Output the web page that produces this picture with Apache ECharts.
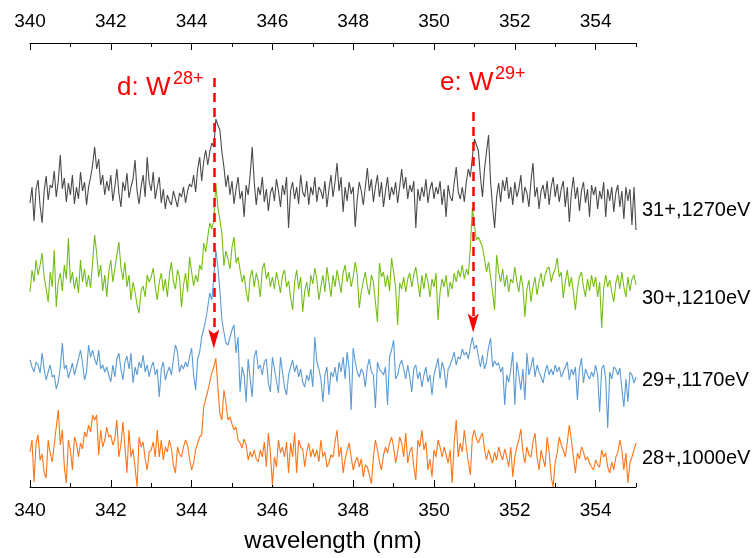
<!DOCTYPE html>
<html>
<head>
<meta charset="utf-8">
<script src="https://cdn.jsdelivr.net/npm/echarts@6/dist/echarts.min.js"></script>
<style>
  html, body { margin: 0; padding: 0; background: #ffffff; }
  #chart { width: 754px; height: 558px; }
</style>
</head>
<body>
<div id="chart"></div>
<script>
// Wavelength grid of the spectra (nm): 340.00 ... 355.00 in 0.05 nm steps
const wavelengthStart = 340;
const wavelengthStep = 0.05;

// Axis ticks (nm)
const majorTicks = [340, 342, 344, 346, 348, 350, 352, 354];
const minorTicks = [341, 343, 345, 347, 349, 351, 353, 355];

// Trace captions (charge state, beam energy)
const traceNames = ['31+,1270eV', '30+,1210eV', '29+,1170eV', '28+,1000eV'];

// Identified lines: label, ion charge, wavelength (nm)
const lineLabels = ['d', 'e'];
const lineIons = ['28+', '29+'];
const lineWavelengths = [344.55, 350.97];

// Stacked intensities (arb. units, vertically offset traces)
const trace31 = [
  284, 300, 266, 298, 307, 281, 264, 296, 311, 287, 302, 299, 316, 290, 306, 332, 298, 309, 285, 304,
  292, 312, 283, 300, 288, 315, 296, 305, 282, 300, 310, 322, 340, 318, 328, 302, 312, 292, 306, 296,
  312, 286, 300, 318, 294, 280, 305, 296, 314, 289, 300, 308, 327, 296, 283, 300, 312, 290, 330, 305,
  296, 315, 288, 300, 310, 284, 298, 278, 292, 286, 282, 296, 288, 280, 294, 290, 300, 284, 296, 303,
  300, 312, 295, 318, 330, 306, 326, 337, 322, 335, 344, 340, 368, 362, 357, 335, 320, 300, 312, 292,
  306, 283, 298, 310, 288, 296, 270, 302, 292, 312, 340, 305, 282, 300, 292, 310, 285, 298, 276, 294,
  300, 286, 308, 296, 280, 302, 292, 310, 259, 296, 305, 288, 300, 283, 312, 295, 290, 306, 282, 300,
  292, 310, 285, 300, 296, 288, 306, 280, 298, 312, 290, 305, 324, 296, 310, 275, 300, 286, 305, 293,
  300, 260, 288, 305, 296, 282, 300, 319, 296, 308, 285, 300, 312, 290, 305, 280, 296, 310, 287, 300,
  292, 305, 284, 300, 318, 298, 310, 288, 302, 295, 306, 259, 298, 286, 300, 290, 308, 284, 298, 305,
  288, 300, 293, 306, 282, 298, 270, 302, 290, 286, 304, 320, 295, 288, 300, 285, 305, 318, 310, 330,
  348, 342, 336, 310, 290, 318, 335, 352, 305, 280, 259, 290, 304, 285, 307, 296, 310, 288, 300, 282,
  305, 290, 298, 312, 284, 300, 294, 280, 306, 324, 290, 300, 278, 296, 302, 288, 306, 282, 300, 310,
  290, 303, 285, 298, 306, 280, 300, 265, 294, 310, 288, 300, 276, 296, 305, 284, 298, 270, 302, 292,
  300, 278, 296, 288, 305, 270, 298, 286, 300, 275, 294, 302, 280, 296, 268, 300, 286, 298, 262, 300,
  257
];
const trace30 = [
  195, 217, 205, 227, 212, 222, 234, 210, 198, 185, 215, 200, 237, 180, 205, 214, 196, 222, 208, 249,
  204, 215, 198, 210, 194, 227, 205, 218, 200, 212, 199, 225, 252, 234, 210, 222, 196, 212, 190, 215,
  227, 205, 218, 232, 245, 220, 207, 225, 200, 212, 187, 205, 195, 182, 174, 196, 201, 190, 212, 205,
  210, 219, 200, 187, 205, 214, 196, 208, 190, 212, 225, 205, 198, 217, 210, 180, 202, 214, 195, 230,
  215, 201, 212, 205, 222, 217, 244, 235, 250, 264, 258, 267, 304, 280, 267, 254, 221, 236, 228, 218,
  240, 250, 224, 230, 217, 205, 212, 196, 185, 210, 217, 200, 214, 206, 190, 218, 224, 208, 215, 200,
  210, 198, 215, 205, 194, 212, 217, 200, 206, 190, 177, 205, 217, 198, 210, 175, 196, 205, 190, 212,
  203, 219, 208, 187, 200, 212, 195, 220, 205, 190, 212, 200, 217, 206, 194, 214, 222, 205, 215, 200,
  210, 225, 212, 179, 195, 206, 215, 200, 192, 212, 205, 185, 165, 224, 210, 215, 200, 212, 196, 229,
  215, 200, 162, 204, 198, 210, 195, 208, 214, 200, 212, 220, 205, 190, 212, 198, 214, 205, 190, 208,
  200, 214, 167, 195, 208, 200, 212, 190, 205, 198, 214, 205, 217, 210, 222, 208, 218, 212, 240, 279,
  262, 247, 250, 245, 240, 228, 215, 225, 210, 195, 177, 232, 215, 205, 218, 200, 212, 195, 208, 204,
  220, 205, 195, 212, 200, 170, 198, 207, 185, 200, 210, 192, 205, 214, 200, 212, 218, 220, 205, 213,
  218, 229, 210, 215, 189, 205, 217, 200, 210, 195, 177, 198, 210, 215, 200, 190, 208, 196, 212, 200,
  210, 190, 205, 159, 198, 212, 200, 207, 195, 185, 204, 212, 198, 215, 200, 190, 210, 196, 208, 212,
  202
];
const trace29 = [
  127, 120, 115, 125, 122, 114, 134, 118, 107, 115, 122, 110, 112, 98, 105, 120, 144, 118, 122, 109,
  116, 124, 112, 120, 128, 137, 124, 107, 115, 142, 130, 137, 128, 122, 137, 118, 122, 115, 120, 112,
  105, 122, 110, 128, 134, 118, 107, 125, 131, 118, 134, 104, 120, 112, 125, 119, 132, 115, 122, 110,
  120, 125, 112, 118, 90, 118, 125, 107, 115, 120, 112, 128, 142, 135, 115, 122, 118, 125, 120, 130,
  139, 112, 97, 128, 135, 150, 158, 167, 180, 194, 187, 210, 237, 220, 197, 167, 155, 144, 142, 150,
  157, 162, 134, 150, 95, 120, 112, 85, 128, 108, 90, 130, 137, 118, 122, 112, 125, 128, 104, 95,
  130, 118, 106, 94, 130, 115, 100, 92, 112, 120, 127, 115, 122, 110, 118, 105, 100, 112, 106, 118,
  100, 150, 125, 118, 108, 85, 112, 120, 92, 115, 110, 120, 105, 125, 115, 130, 108, 135, 118, 77,
  139, 125, 115, 110, 118, 114, 100, 120, 128, 115, 112, 79, 125, 118, 115, 112, 120, 82, 130, 137,
  147, 108, 112, 122, 127, 118, 108, 122, 110, 95, 118, 122, 108, 115, 100, 112, 120, 105, 112, 92,
  112, 120, 129, 108, 125, 118, 99, 118, 122, 128, 135, 122, 130, 128, 138, 132, 135, 128, 140, 150,
  138, 142, 130, 120, 132, 118, 125, 140, 149, 120, 126, 122, 124, 115, 120, 82, 112, 105, 117, 135,
  82, 125, 112, 97, 118, 87, 134, 112, 120, 130, 110, 122, 115, 110, 104, 115, 122, 112, 118, 112,
  122, 115, 120, 110, 115, 120, 125, 107, 118, 112, 120, 87, 118, 129, 104, 118, 112, 108, 115, 110,
  122, 112, 75, 118, 122, 108, 59, 115, 108, 120, 118, 112, 119, 98, 80, 108, 85, 115, 112, 104,
  110
];
const trace28 = [
  35, 47, 5, 44, 52, 27, 33, 14, 9, 47, 34, 25, 42, 60, 77, 42, 57, 20, 4, 47,
  37, 17, 50, 44, 30, 44, 38, 55, 50, 62, 55, 72, 67, 72, 32, 57, 40, 47, 60, 50,
  52, 42, 48, 67, 30, 42, 65, 40, 14, 57, 30, 38, 20, 0, 50, 40, 45, 28, 17, 35,
  37, 45, 30, 57, 30, 47, 27, 40, 35, 47, 38, 22, 14, 40, 33, 30, 40, 47, 42, 28,
  17, 24, 37, 44, 50, 52, 80, 88, 96, 105, 114, 120, 129, 100, 74, 67, 97, 84, 67, 70,
  63, 57, 60, 47, 44, 39, 48, 42, 27, 35, 30, 37, 28, 25, 37, 30, 45, 20, 54, 34,
  2, 30, 20, 47, 34, 40, 30, 45, 14, 44, 30, 54, 14, 47, 40, 38, 20, 35, 44, 30,
  38, 30, 37, 25, 47, 30, 35, 20, 24, 32, 30, 45, 57, 30, 40, 14, 28, 37, 44, 30,
  17, 25, 30, 20, 28, 10, 22, 20, 12, 3, 30, 47, 37, 25, 17, 32, 40, 34, 44, 50,
  40, 24, 35, 50, 44, 30, 54, 24, 35, 40, 20, 7, 47, 40, 57, 37, 45, 17, 28, 10,
  37, 30, 47, 40, 30, 40, 32, 24, 37, 4, 45, 67, 30, 44, 35, 57, 40, 25, 12, 50,
  57, 48, 44, 50, 54, 38, 27, 37, 30, 24, 35, 27, 40, 33, 27, 38, 30, 20, 40, 10,
  30, 40, 47, 58, 35, 24, 40, 32, 30, 45, 54, 30, 17, 37, 28, 20, 50, 35, 10, 0,
  25, 34, 50, 42, 37, 30, 45, 62, 47, 30, 14, 34, 28, 40, 35, 27, 30, 24, 20, 17,
  27, 22, 20, 37, 30, 34, 20, 14, 25, 17, 30, 34, 47, 37, 17, 34, 4, 24, 30, 37,
  44
];

const traces = [trace31, trace30, trace29, trace28];
const traceColors = ['#4a4a4a', '#74bd16', '#5b9bd5', '#ff7416'];

function toPairs(values) {
  return values.map(function (v, i) {
    return [+(wavelengthStart + i * wavelengthStep).toFixed(2), v];
  });
}

const chart = echarts.init(document.getElementById('chart'), null, { renderer: 'canvas' });

const labelFont = 'Liberation Sans, Arial, sans-serif';

function xAxisBase(position, withLabels, ticks, tickLen, showLine) {
  return {
    type: 'value',
    position: position,
    min: 340,
    max: 355,
    interval: 1,
    axisLine: { show: showLine, onZero: false, lineStyle: { color: '#000', width: 1 } },
    axisTick: { show: true, inside: true, length: tickLen, customValues: ticks,
      lineStyle: { color: '#000', width: 1 } },
    axisLabel: withLabels ? {
      show: true, customValues: majorTicks, color: '#000', fontSize: 19,
      fontFamily: labelFont, margin: position === 'top' ? 12 : 14
    } : { show: false },
    splitLine: { show: false },
    minorTick: { show: false }
  };
}

const xAxes = [
  Object.assign(xAxisBase('bottom', true, majorTicks, 7, true), {
    name: 'wavelength (nm)', nameLocation: 'middle', nameGap: 42,
    nameTextStyle: { color: '#000', fontSize: 24, fontFamily: labelFont }
  }),
  xAxisBase('bottom', false, minorTicks, 4, false),
  xAxisBase('top', true, majorTicks, 7, true),
  xAxisBase('top', false, minorTicks, 4, false)
];

const series = traces.map(function (t, k) {
  return {
    name: traceNames[k],
    type: 'line',
    xAxisIndex: 0,
    data: toPairs(t),
    showSymbol: false,
    symbol: 'none',
    lineStyle: { color: traceColors[k], width: 1.1 },
    clip: false,
    z: 2
  };
});

// Dashed red arrows marking the identified lines
const arrowHead = 'path://M5,0 L10,18 L5,14 L0,18 Z';
const arrowSpans = [[409, 148], [375, 164]];
series.push({
  name: 'lines',
  type: 'line',
  data: [],
  z: 5,
  markLine: {
    silent: true,
    animation: false,
    label: { show: false },
    lineStyle: { color: '#ff0000', width: 2.5, type: [9, 6] },
    emphasis: { disabled: true },
    data: lineWavelengths.map(function (w, i) {
      return [
        { coord: [w, arrowSpans[i][0]], symbol: 'none' },
        { coord: [w, arrowSpans[i][1]], symbol: arrowHead, symbolSize: [11, 19] }
      ];
    })
  }
});

const captionY = [210, 298, 380, 458];
const lineLabelPos = [
  { x: 117, y: 88, sx: 173, sy: 79 },
  { x: 440, y: 83, sx: 495, sy: 74 }
];

const graphics = [];
traceNames.forEach(function (name, k) {
  graphics.push({
    type: 'text', x: 642, y: captionY[k], silent: true,
    style: { text: name, fill: '#000', font: '20px ' + labelFont, verticalAlign: 'middle', align: 'left' }
  });
});
lineLabels.forEach(function (lab, i) {
  graphics.push({
    type: 'text', x: lineLabelPos[i].x, y: lineLabelPos[i].y, silent: true,
    style: { text: lab + ': W', fill: '#ff0000', font: '26px ' + labelFont, verticalAlign: 'middle', align: 'left' }
  });
  graphics.push({
    type: 'text', x: lineLabelPos[i].sx, y: lineLabelPos[i].sy, silent: true,
    style: { text: lineIons[i], fill: '#ff0000', font: '18px ' + labelFont, verticalAlign: 'middle', align: 'left' }
  });
});

chart.setOption({
  animation: false,
  backgroundColor: '#ffffff',
  grid: { left: 30, right: 118, top: 43, bottom: 71, containLabel: false },
  xAxis: xAxes,
  yAxis: { type: 'value', min: 0, max: 444, show: false },
  series: series,
  graphic: graphics
});
</script>
</body>
</html>
